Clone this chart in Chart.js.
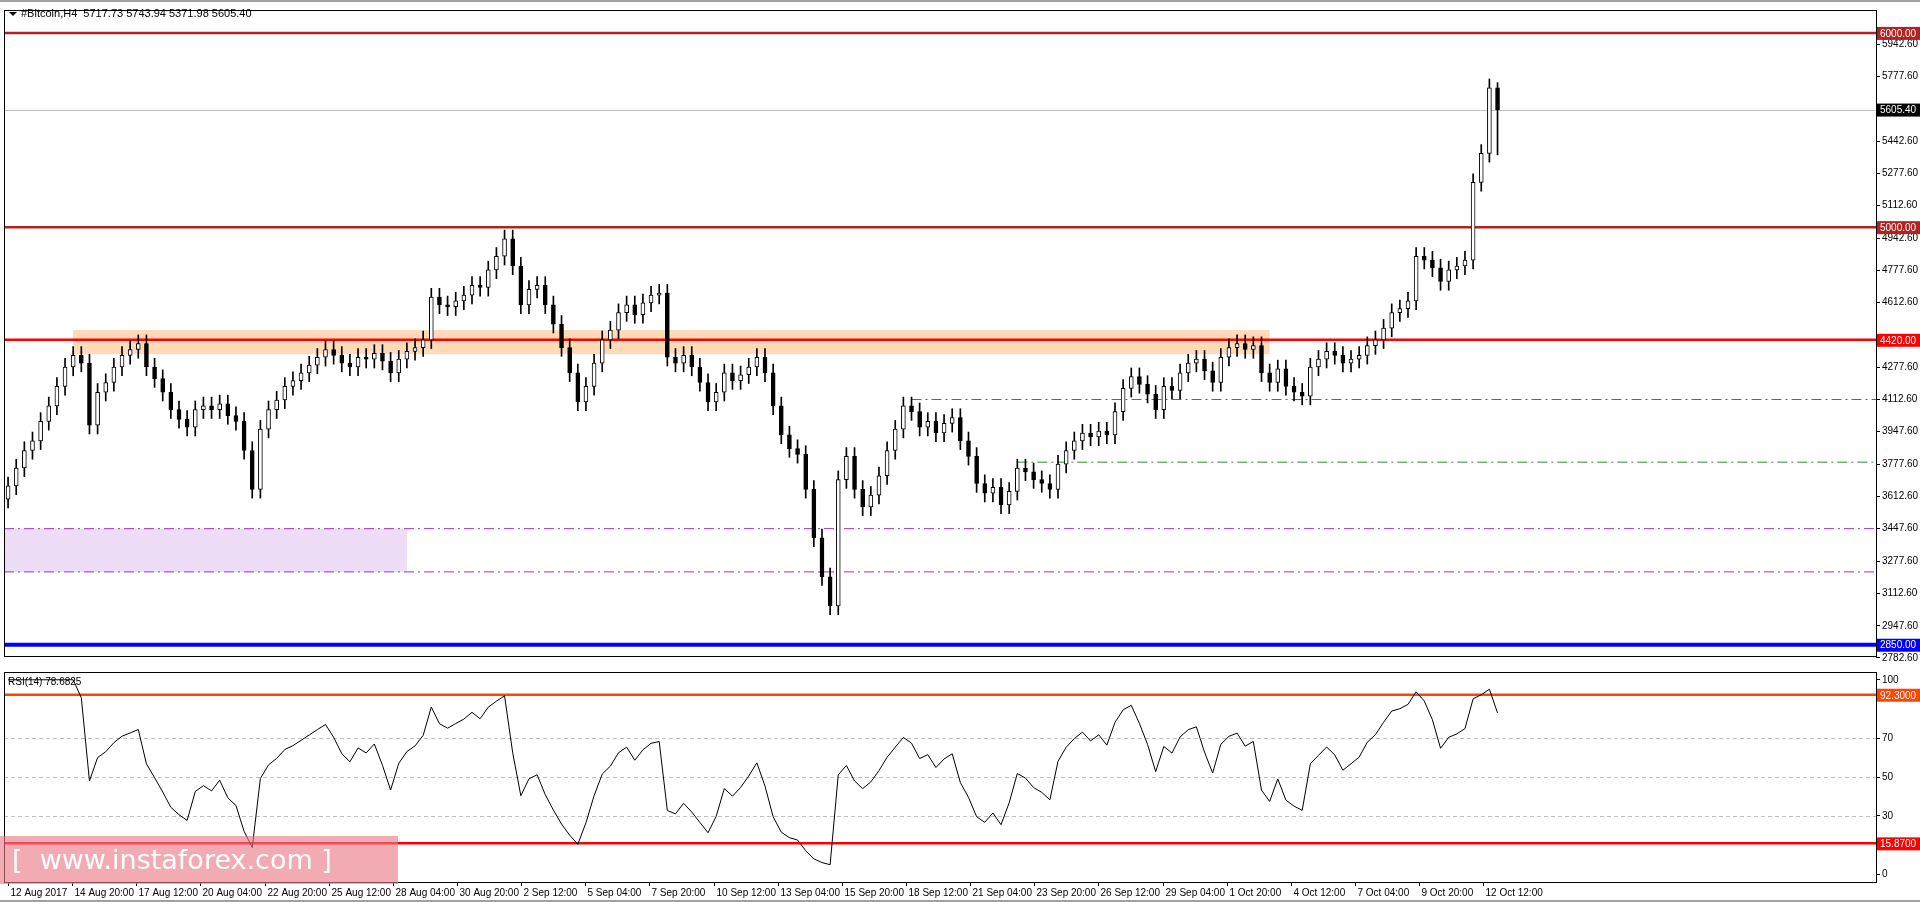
<!DOCTYPE html>
<html lang="en">
<head>
  <meta charset="UTF-8">
  <title>#Bitcoin,H4</title>
  <script src="https://cdn.jsdelivr.net/npm/chart.js"></script>
  <style>
    * { margin: 0; padding: 0; box-sizing: border-box; }
    body { width: 1920px; height: 902px; background: #fff; position: relative; overflow: hidden; border-top: 2px solid #a0a0a0; }
    #mainWrap { position: absolute; left: 0; top: 0; width: 1920px; height: 662px; }
    #rsiWrap { position: absolute; left: 0; top: 662px; width: 1920px; height: 240px; }
    .watermark {
      position: absolute; left: 0; top: 834px; width: 398px; height: 48px;
      background: rgba(236, 120, 132, 0.62); color: #fff;
      font: 27px 'DejaVu Sans', sans-serif; line-height: 48px; padding-left: 12px; white-space: pre;
    }
  </style>
</head>
<body>
  <div id="mainWrap"><canvas id="mainChart"></canvas></div>
  <div id="rsiWrap"><canvas id="rsiChart"></canvas></div>
  <div class="watermark">[  www.instaforex.com ]</div>

  <script>
    // H4-ish closes
    const closes = [
      3668, 3760, 3850, 3900, 4000, 4080, 4180, 4280, 4340, 4300,
      3980, 4150, 4200, 4280, 4340, 4370, 4400, 4280, 4220, 4150,
      4060, 4010, 3970, 4060, 4080, 4060, 4090, 4030, 4000, 3850,
      3650, 3960, 4060, 4110, 4180, 4210, 4250, 4290, 4330, 4370,
      4340, 4300, 4280, 4330, 4320, 4350, 4310, 4250, 4320, 4360,
      4380, 4420, 4640, 4600, 4590, 4620, 4650, 4700, 4690, 4780,
      4850, 4940, 4800, 4600, 4680, 4700, 4600, 4500, 4380, 4250,
      4100, 4180, 4300, 4420, 4470, 4560, 4600, 4550, 4610, 4650,
      4660, 4330, 4300, 4340, 4280, 4200, 4100, 4150, 4250, 4210,
      4240, 4280, 4330, 4250, 4080, 3930, 3860, 3830, 3650, 3400,
      3200, 3050, 3700, 3820, 3650, 3560, 3620, 3720, 3850, 3960,
      4080, 4050, 3970, 4000, 3940, 3990, 4020, 3900, 3820, 3680,
      3630, 3660, 3570, 3640, 3760, 3740, 3700, 3680, 3650, 3780,
      3850, 3900, 3940, 3920, 3950, 3930, 4050, 4170, 4230, 4190,
      4140, 4060, 4180, 4160, 4250, 4300, 4320, 4260, 4200, 4330,
      4380, 4400, 4370, 4390, 4250, 4200, 4270, 4180, 4150, 4130,
      4280, 4320, 4360, 4340, 4300, 4320, 4340, 4390, 4420, 4480,
      4560, 4580, 4620, 4850, 4830, 4790, 4720, 4780, 4800, 4830,
      5230, 5380, 5717.73, 5605.40
    ];
    const firstOpen = 3600;
    const wickSize = 45;
    const lastHigh = 5743.94, lastLow = 5371.98;
    const totalSlots = 230;

    const timeLabels = [
      '12 Aug 2017', '14 Aug 20:00', '17 Aug 12:00', '20 Aug 04:00', '22 Aug 20:00', '25 Aug 12:00',
      '28 Aug 04:00', '30 Aug 20:00', '2 Sep 12:00', '5 Sep 04:00', '7 Sep 20:00', '10 Sep 12:00',
      '13 Sep 04:00', '15 Sep 20:00', '18 Sep 12:00', '21 Sep 04:00', '23 Sep 20:00', '26 Sep 12:00',
      '29 Sep 04:00', '1 Oct 20:00', '4 Oct 12:00', '7 Oct 04:00', '9 Oct 20:00', '12 Oct 12:00'
    ];
    const labelStep = 7.88;

    const priceTicks = [5942.6, 5777.6, 5442.6, 5277.6, 5112.6, 4942.6, 4777.6, 4612.6, 4277.6,
      4112.6, 3947.6, 3777.6, 3612.6, 3447.6, 3277.6, 3112.6, 2947.6, 2782.6];
    const rsiTicks = [100, 70, 50, 30, 0];

    // levels: [value, colour, width, label box]
    const priceLevels = [
      [6000, '#b22222', 2.5, '6000.00'],
      [5000, '#b22222', 2.5, '5000.00'],
      [4420, '#ff0000', 2.5, '4420.00'],
      [2850, '#0000ff', 4, '2850.00']
    ];
    const currentPrice = 5605.40;
    // dash-dot lines: [value, startIndex, colour]
    const dashLevels = [
      [4112.6, 111, '#2e8b2e'],
      [3790, 124, '#2e8b2e'],
      [3447.6, 0, '#9932cc'],
      [3225, 0, '#9932cc']
    ];
    const orangeZone = { from: 8, to: 155, lo: 4346, hi: 4470 };
    const purpleZone = { from: 0, to: 49, lo: 3225, hi: 3447.6 };
    const rsiLevels = [[92.3, '#ff4500', '92.3000'], [15.87, '#ff0000', '15.8700']];

    // build candles
    const bodies = [], wicks = [];
    closes.forEach((c, i) => {
      const o = i === 0 ? firstOpen : closes[i - 1];
      let h = Math.max(o, c) + wickSize, l = Math.min(o, c) - wickSize;
      if (i === closes.length - 1) { h = lastHigh; l = lastLow; }
      bodies.push({ x: i, y: [Math.min(o, c), Math.max(o, c) + 0.1], bull: c >= o });
      wicks.push({ x: i, y: [l, h] });
    });

    // RSI(14), Wilder smoothing
    function rsi(values, n) {
      const out = values.map(() => null);
      let g = 0, l = 0;
      for (let i = 1; i < values.length; i++) {
        const d = values[i] - values[i - 1];
        const up = Math.max(d, 0), dn = Math.max(-d, 0);
        if (i <= n) { g += up / n; l += dn / n; if (i < n) continue; }
        else { g = (g * (n - 1) + up) / n; l = (l * (n - 1) + dn) / n; }
        out[i] = l === 0 ? 100 : 100 - 100 / (1 + g / l);
      }
      return out;
    }
    const rsiData = rsi([firstOpen - 300, firstOpen - 200, firstOpen - 120, firstOpen - 60, firstOpen - 20, firstOpen, ...closes], 6)
      .slice(6).map((v, i) => ({ x: i, y: v }));

    const font = "'Liberation Sans', sans-serif";
    const xRange = { type: 'linear', min: -0.5, max: totalSlots - 0.5, display: false, offset: false };
    const fixWidth = axis => { axis.width = 44; };

    function dashLine(ctx, x1, x2, y, colour) {
      ctx.save();
      ctx.strokeStyle = colour; ctx.lineWidth = 1;
      ctx.setLineDash([10, 4, 2, 4]);
      ctx.beginPath(); ctx.moveTo(x1, y); ctx.lineTo(x2, y); ctx.stroke();
      ctx.restore();
    }
    function boxLabel(ctx, x, y, text, bg, fg) {
      ctx.fillStyle = bg;
      ctx.fillRect(x + 1, y - 6, 43, 13);
      ctx.fillStyle = fg || '#fff';
      ctx.font = '10px ' + font;
      ctx.textAlign = 'left'; ctx.textBaseline = 'middle';
      ctx.fillText(text, x + 4, y + 1);
    }

    const mainDecor = {
      id: 'mainDecor',
      beforeDatasetsDraw(chart) {
        const { ctx, chartArea: a, scales: { x, y } } = chart;
        ctx.save();
        ctx.beginPath(); ctx.rect(a.left, a.top, a.width, a.height); ctx.clip();
        ctx.fillStyle = 'rgba(253, 205, 160, 0.75)';
        ctx.fillRect(x.getPixelForValue(orangeZone.from), y.getPixelForValue(orangeZone.hi),
          x.getPixelForValue(orangeZone.to) - x.getPixelForValue(orangeZone.from),
          y.getPixelForValue(orangeZone.lo) - y.getPixelForValue(orangeZone.hi));
        ctx.fillStyle = 'rgba(235, 215, 245, 0.85)';
        ctx.fillRect(a.left, y.getPixelForValue(purpleZone.hi),
          x.getPixelForValue(purpleZone.to) - a.left,
          y.getPixelForValue(purpleZone.lo) - y.getPixelForValue(purpleZone.hi));
        dashLevels.forEach(([v, s, c]) => dashLine(ctx, s === 0 ? a.left : x.getPixelForValue(s), a.right, y.getPixelForValue(v), c));
        ctx.strokeStyle = '#c0c0c0'; ctx.lineWidth = 1;
        const cp = Math.round(y.getPixelForValue(currentPrice)) + 0.5;
        ctx.beginPath(); ctx.moveTo(a.left, cp); ctx.lineTo(a.right, cp); ctx.stroke();
        priceLevels.forEach(([v, c, w]) => {
          ctx.strokeStyle = c; ctx.lineWidth = w;
          const py = y.getPixelForValue(v);
          ctx.beginPath(); ctx.moveTo(a.left, py); ctx.lineTo(a.right, py); ctx.stroke();
        });
        ctx.restore();
      },
      afterDraw(chart) {
        const { ctx, chartArea: a, scales: { y } } = chart;
        ctx.save();
        ctx.strokeStyle = '#000'; ctx.lineWidth = 1;
        ctx.strokeRect(a.left + 0.5, a.top + 0.5, a.width, a.height);
        priceLevels.forEach(([v, c, w, t]) => boxLabel(ctx, a.right, y.getPixelForValue(v), t, c));
        boxLabel(ctx, a.right, y.getPixelForValue(currentPrice), currentPrice.toFixed(2), '#000');
        ctx.fillStyle = '#000';
        ctx.beginPath(); ctx.moveTo(9, 10); ctx.lineTo(17, 10); ctx.lineTo(13, 14); ctx.fill();
        ctx.font = '11px ' + font; ctx.textBaseline = 'middle'; ctx.textAlign = 'left';
        ctx.fillText('#Bitcoin,H4  5717.73 5743.94 5371.98 5605.40', 21, 12);
        ctx.restore();
      }
    };

    const rsiDecor = {
      id: 'rsiDecor',
      beforeDatasetsDraw(chart) {
        const { ctx, chartArea: a, scales: { y } } = chart;
        ctx.save();
        ctx.strokeStyle = '#c0c0c0'; ctx.setLineDash([4, 3]); ctx.lineWidth = 1;
        [70, 50, 30].forEach(v => {
          const py = Math.round(y.getPixelForValue(v)) + 0.5;
          ctx.beginPath(); ctx.moveTo(a.left, py); ctx.lineTo(a.right, py); ctx.stroke();
        });
        ctx.setLineDash([]);
        rsiLevels.forEach(([v, c]) => {
          ctx.strokeStyle = c; ctx.lineWidth = 2.5;
          const py = y.getPixelForValue(v);
          ctx.beginPath(); ctx.moveTo(a.left, py); ctx.lineTo(a.right, py); ctx.stroke();
        });
        ctx.restore();
      },
      afterDraw(chart) {
        const { ctx, chartArea: a, scales: { x, y } } = chart;
        ctx.save();
        ctx.strokeStyle = '#000'; ctx.lineWidth = 1;
        ctx.strokeRect(a.left + 0.5, a.top + 0.5, a.width, a.height);
        rsiLevels.forEach(([v, c, t]) => boxLabel(ctx, a.right, y.getPixelForValue(v), t, c));
        ctx.fillStyle = '#000'; ctx.font = '10px ' + font;
        ctx.textAlign = 'left'; ctx.textBaseline = 'middle';
        ctx.fillText('RSI(14) 78.6825', 8, a.top + 10);
        ctx.textBaseline = 'top';
        timeLabels.forEach((t, k) => {
          const px = Math.round(x.getPixelForValue(k * labelStep)) + 0.5;
          ctx.beginPath(); ctx.moveTo(px, a.bottom); ctx.lineTo(px, a.bottom + 4); ctx.stroke();
          ctx.fillText(t, px + 2, a.bottom + 6);
        });
        ctx.strokeStyle = '#a0a0a0'; ctx.lineWidth = 2;
        ctx.beginPath(); ctx.moveTo(0, chart.height - 3); ctx.lineTo(chart.width, chart.height - 3); ctx.stroke();
        ctx.restore();
      }
    };

    const yAxisCommon = {
      position: 'right',
      afterFit: fixWidth,
      grid: { drawOnChartArea: false, drawTicks: true, tickLength: 4, color: '#000' },
      border: { display: false },
      ticks: { color: '#000', font: { family: font, size: 10 }, padding: 2, autoSkip: false }
    };

    new Chart(document.getElementById('mainChart'), {
      type: 'bar',
      data: {
        datasets: [
          {
            data: wicks, backgroundColor: '#000', barThickness: 1, grouped: false, order: 2
          },
          {
            data: bodies, grouped: false, order: 1, barThickness: 4,
            backgroundColor: bodies.map(b => b.bull ? '#fff' : '#000'),
            borderColor: '#000', borderWidth: 1, borderSkipped: false
          }
        ]
      },
      options: {
        responsive: true, maintainAspectRatio: false, animation: false,
        layout: { padding: { top: 4, left: 4, bottom: 0, right: 0 } },
        plugins: { legend: { display: false }, tooltip: { enabled: false } },
        scales: {
          x: xRange,
          y: {
            ...yAxisCommon, min: 2792, max: 6118,
            afterBuildTicks: axis => { axis.ticks = priceTicks.map(v => ({ value: v })); },
            ticks: { ...yAxisCommon.ticks, callback: v => v.toFixed(2) }
          }
        }
      },
      plugins: [mainDecor]
    });

    new Chart(document.getElementById('rsiChart'), {
      type: 'line',
      data: {
        datasets: [{ data: rsiData, borderColor: '#000', borderWidth: 1, pointRadius: 0, tension: 0 }]
      },
      options: {
        responsive: true, maintainAspectRatio: false, animation: false,
        layout: { padding: { top: 0, left: 4, bottom: 22, right: 0 } },
        plugins: { legend: { display: false }, tooltip: { enabled: false } },
        scales: {
          x: xRange,
          y: {
            ...yAxisCommon, min: -4, max: 104,
            afterBuildTicks: axis => { axis.ticks = rsiTicks.map(v => ({ value: v })); }
          }
        }
      },
      plugins: [rsiDecor]
    });
  </script>
</body>
</html>
